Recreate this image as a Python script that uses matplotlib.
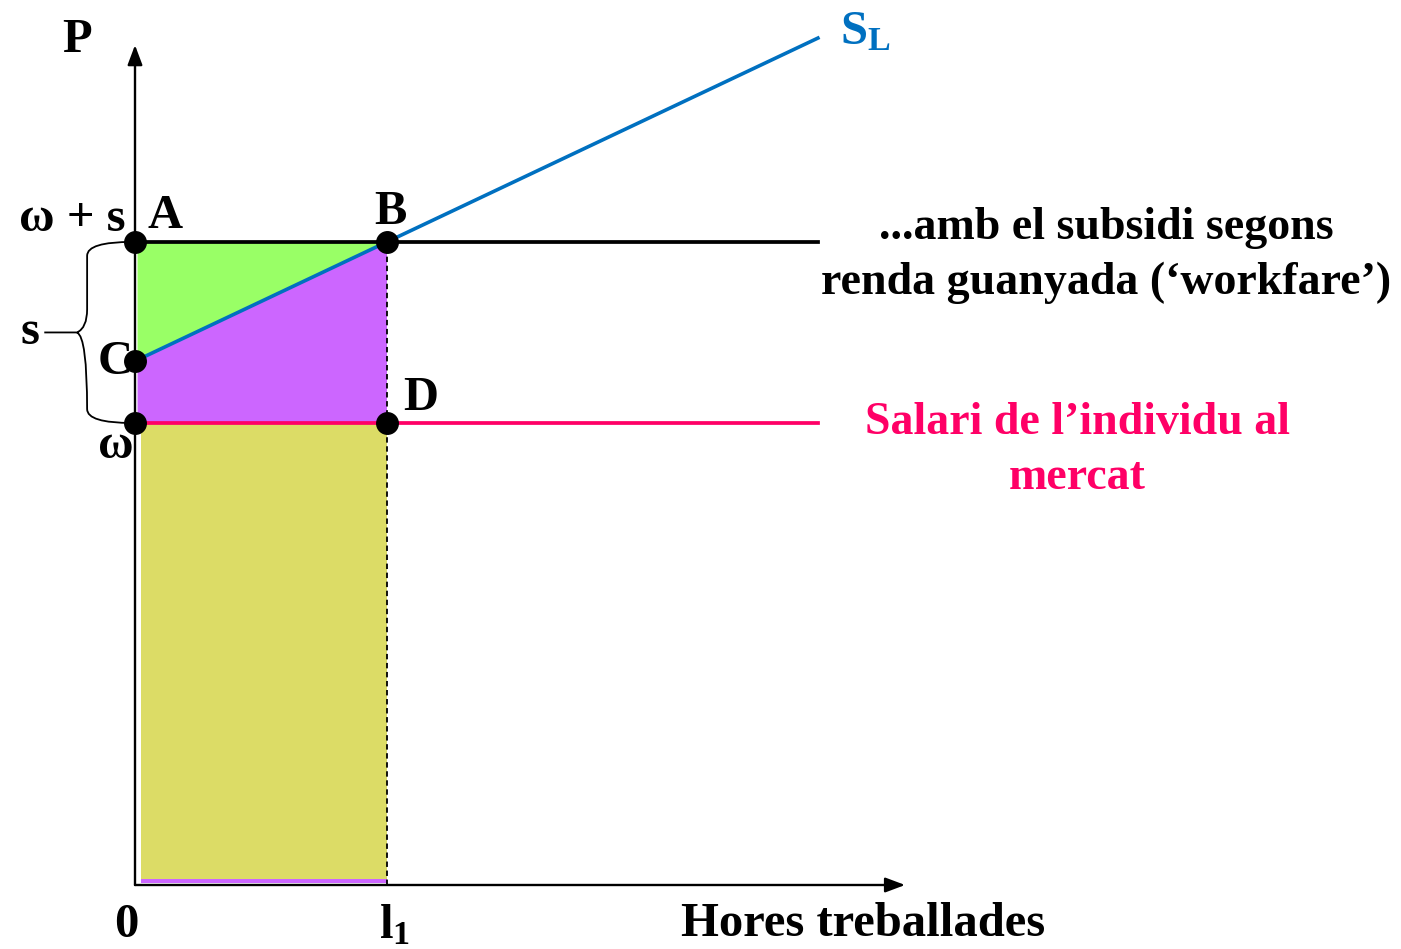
import matplotlib
matplotlib.use("Agg")
import matplotlib.pyplot as plt
from matplotlib.path import Path
from matplotlib.patches import PathPatch

# economic values (wage units / hours units)
w = 1.0          # market wage omega
s = 0.392        # subsidy
c = 1.134        # supply intercept (point C)
l1 = 1.0         # hours worked
x_end = 2.71     # where the lines end
x_axis_end = 3.056
y_axis_end = 1.818

green = "#99FF66"
purple = "#CC66FF"
yellow = "#DCDC66"
blue = "#0070C0"
pink = "#FF0066"

plt.rcParams['font.family'] = ['Liberation Serif', 'DejaVu Serif']
plt.rcParams['font.weight'] = 'bold'
plt.rcParams['mathtext.fontset'] = 'custom'
plt.rcParams['mathtext.rm'] = 'Liberation Serif:bold'
plt.rcParams['mathtext.bf'] = 'Liberation Serif:bold'
plt.rcParams['mathtext.it'] = 'Liberation Serif:bold'

fig = plt.figure(figsize=(14.01, 9.49), dpi=100)
ax = fig.add_axes([0, 0, 1, 1])
ax.set_xlim(-135 / 252, (1401 - 135) / 252)
ax.set_ylim(-64 / 462, 885 / 462)
ax.axis('off')

slope = (w + s - c) / l1

# shaded areas
ax.fill([0.01, l1, 0.01], [w + s, w + s, c], color=green, lw=0)
ax.fill([0.01, l1, l1, 0.01], [c + slope * 0.01, w + s, w, w], color=purple, lw=0)
ax.fill([0.025, l1, l1, 0.025], [0.012, 0.012, w, w], color=yellow, lw=0)
ax.fill([0.025, l1, l1, 0.025], [0.005, 0.005, 0.012, 0.012], color=purple, lw=0)

# axes with arrows
ax.annotate('', xy=(x_axis_end, 0), xytext=(0, 0),
            arrowprops=dict(arrowstyle='-|>,head_length=1.2,head_width=0.45', lw=1.7, color='black',
                            shrinkA=0, shrinkB=0))
ax.annotate('', xy=(0, y_axis_end), xytext=(0, 0),
            arrowprops=dict(arrowstyle='-|>,head_length=1.2,head_width=0.45', lw=1.7, color='black',
                            shrinkA=0, shrinkB=0))

# lines
ax.plot([0, x_end], [w + s, w + s], color='black', lw=2.7, zorder=3)
ax.plot([0, x_end], [w, w], color=pink, lw=2.7, zorder=3)
ax.plot([0, x_end], [c, c + slope * x_end], color=blue, lw=2.6, zorder=4)
ax.plot([l1, l1], [0, w + s], color='black', lw=1.3, ls=(0, (3, 2)), zorder=2)

# points
px = [0, l1, 0, 0, l1]
py = [w + s, w + s, c, w, w]
ax.scatter(px, py, s=240, color='black', zorder=6)

# brace for s
bx = -0.19
brace = Path([(-0.01, w + s), (bx, w + s), (bx, w + s - 0.03), (bx, w + s / 2 + 0.05),
              (bx, w + s / 2 + 0.01), (bx - 0.04, w + s / 2), (bx - 0.17, w + s / 2),
              (bx - 0.04, w + s / 2), (bx, w + s / 2 - 0.01), (bx, w + 0.03),
              (bx, w), (-0.01, w)],
             [Path.MOVETO, Path.CURVE3, Path.CURVE3, Path.LINETO,
              Path.CURVE3, Path.CURVE3, Path.LINETO,
              Path.MOVETO, Path.CURVE3, Path.CURVE3, Path.CURVE3, Path.CURVE3])
ax.add_patch(PathPatch(brace, fill=False, lw=1.3, color='black'))

fs = 35
ax.text(0.12, w + s + 0.055, 'A', fontsize=fs, ha='center', va='center')
ax.text(l1 + 0.015, w + s + 0.065, 'B', fontsize=fs, ha='center', va='center')
ax.text(-0.08, c - 0.002, 'C', fontsize=fs, ha='center', va='center')
ax.text(l1 + 0.135, w + 0.055, 'D', fontsize=fs, ha='center', va='center')
ax.text(-0.25, w + s + 0.05, 'ω + s', fontsize=fs, ha='center', va='center')
ax.text(-0.075, w - 0.05, 'ω', fontsize=fs, ha='center', va='center')
ax.text(-0.415, w + s / 2, 's', fontsize=fs, ha='center', va='center')
ax.text(-0.23, 1.83, 'P', fontsize=fs, ha='center', va='center')
ax.text(-0.035, -0.087, '0', fontsize=fs, ha='center', va='center')
ax.text(l1 + 0.03, -0.09, 'l$_\\mathrm{1}$', fontsize=fs, ha='center', va='center')
ax.text(2.89, -0.085, 'Hores treballades', fontsize=fs, ha='center', va='center')
ax.text(2.9, 1.845, 'S$_\\mathrm{L}$', fontsize=fs, ha='center', va='center', color=blue)
ax.text(3.855, w + s - 0.03, '...amb el subsidi segons\nrenda guanyada (‘workfare’)',
        fontsize=33, ha='center', va='center', linespacing=1.4)
ax.text(3.74, w - 0.06, 'Salari de l’individu al\nmercat', fontsize=33,
        ha='center', va='center', color=pink, linespacing=1.4)

fig.savefig('out.png', dpi=100)
